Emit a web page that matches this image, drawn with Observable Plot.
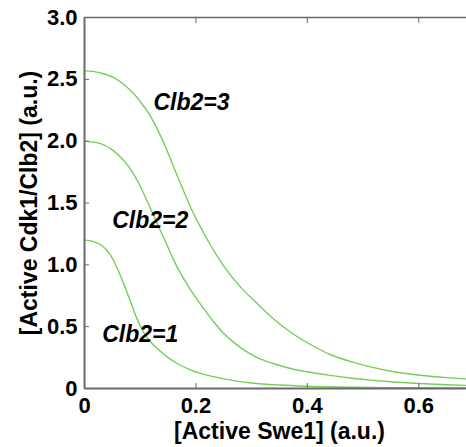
<!DOCTYPE html>
<html>
<head>
<meta charset="utf-8">
<script src="https://cdn.jsdelivr.net/npm/d3@7"></script>
<script src="https://cdn.jsdelivr.net/npm/@observablehq/plot@0.6"></script>
<style>
html, body { margin: 0; padding: 0; background: #fff; overflow: hidden; }
#chart svg { overflow: hidden; }
</style>
</head>
<body>
<div id="chart"></div>
<script>
// ---- data ----
const swe1_3 = [0, 0.03, 0.052, 0.07, 0.088, 0.1, 0.113, 0.127, 0.14, 0.153, 0.167, 0.18, 0.19, 0.21, 0.23, 0.25, 0.28, 0.31, 0.34, 0.37, 0.4, 0.441, 0.48, 0.513, 0.55, 0.603, 0.65, 0.7];
const cdk_3  = [2.57, 2.55, 2.515, 2.46, 2.385, 2.32, 2.24, 2.13, 2.01, 1.87, 1.715, 1.575, 1.47, 1.29, 1.13, 0.99, 0.82, 0.687, 0.56, 0.455, 0.37, 0.275, 0.215, 0.175, 0.14, 0.107, 0.088, 0.074];

const swe1_2 = [0, 0.029, 0.05, 0.065, 0.08, 0.095, 0.118, 0.136, 0.15, 0.16, 0.175, 0.19, 0.21, 0.23, 0.25, 0.27, 0.29, 0.31, 0.34, 0.37, 0.4, 0.441, 0.48, 0.513, 0.55, 0.6, 0.65, 0.7];
const cdk_2  = [2.0, 1.98, 1.93, 1.87, 1.79, 1.68, 1.46, 1.28, 1.14, 1.04, 0.91, 0.8, 0.67, 0.55, 0.445, 0.365, 0.3, 0.25, 0.2, 0.162, 0.135, 0.106, 0.083, 0.068, 0.054, 0.04, 0.03, 0.023];

const swe1_1 = [0, 0.015, 0.03, 0.045, 0.058, 0.07, 0.082, 0.094, 0.106, 0.12, 0.135, 0.15, 0.167, 0.19, 0.21, 0.25, 0.3, 0.35, 0.4, 0.5, 0.6, 0.7];
const cdk_1  = [1.2, 1.19, 1.16, 1.09, 0.98, 0.85, 0.71, 0.565, 0.455, 0.37, 0.305, 0.25, 0.2, 0.15, 0.12, 0.078, 0.045, 0.028, 0.018, 0.009, 0.006, 0.004];

const seriesNames = ["Clb2=1", "Clb2=2", "Clb2=3"];
const labelX = [0.100, 0.118, 0.192];
const labelY = [0.437, 1.36, 2.31];

const xTicks = [0, 0.2, 0.4, 0.6];
const xTickLabels = ["0", "0.2", "0.4", "0.6"];
const yTicks = [0, 0.5, 1.0, 1.5, 2.0, 2.5, 3.0];
const yTickLabels = ["0", "0.5", "1.0", "1.5", "2.0", "2.5", "3.0"];

const xTitle = "[Active Swe1] (a.u.)";
const yTitle = "[Active Cdk1/Clb2] (a.u.)";

// ---- build ----
const toRows = (xs, ys, name) => xs.map((x, i) => ({x, y: ys[i], series: name}));
const rows = [
  ...toRows(swe1_1, cdk_1, seriesNames[0]),
  ...toRows(swe1_2, cdk_2, seriesNames[1]),
  ...toRows(swe1_3, cdk_3, seriesNames[2])
];
const labels = seriesNames.map((s, i) => ({s, x: labelX[i], y: labelY[i]}));

const axisColor = "#6a6a6a";
const green = "#74cf58";
const font = "'Liberation Sans', Arial, sans-serif";

const plot = Plot.plot({
  width: 466,
  height: 447,
  marginLeft: 84,
  marginRight: -8,
  marginTop: 17,
  marginBottom: 59,
  style: {fontFamily: font, fontSize: "22px", fontWeight: "bold", color: "#000", background: "#fff"},
  x: {domain: [0, 0.7]},
  y: {domain: [0, 3]},
  marks: [
    Plot.line(rows, {x: "x", y: "y", z: "series", stroke: green, strokeWidth: 1.4, curve: "monotone-x", clip: true}),
    Plot.ruleX([0], {stroke: axisColor, strokeWidth: 2}),
    Plot.ruleY([0], {stroke: axisColor, strokeWidth: 2}),
    Plot.ruleY([3], {stroke: axisColor, strokeWidth: 1.6}),
    Plot.axisX({anchor: "bottom", ticks: xTicks, tickSize: -5, tickPadding: 14, stroke: axisColor,
      tickFormat: (d) => xTickLabels[xTicks.indexOf(d)], fontSize: 22,
      label: null}),
    Plot.axisX({anchor: "bottom", ticks: [], tickSize: 0, label: xTitle, labelAnchor: "center", labelArrow: "none", labelOffset: 50, fontSize: 23}),
    Plot.axisX({anchor: "top", ticks: xTicks, tickSize: -5, tickFormat: () => "", label: null, stroke: axisColor}),
    Plot.axisY({anchor: "left", ticks: yTicks, tickSize: -5, tickPadding: 12, stroke: axisColor,
      tickFormat: (d) => yTickLabels[yTicks.indexOf(d)], fontSize: 22, label: null}),
    Plot.axisY({anchor: "left", ticks: [], tickSize: 0, label: yTitle, labelAnchor: "center", labelArrow: "none", labelOffset: 64, fontSize: 23}),
    Plot.text(labels, {x: "x", y: "y", text: "s", fontStyle: "italic", fontWeight: "bold", fontSize: 23, fill: "#000"})
  ]
});
document.getElementById("chart").appendChild(plot);
</script>
</body>
</html>
